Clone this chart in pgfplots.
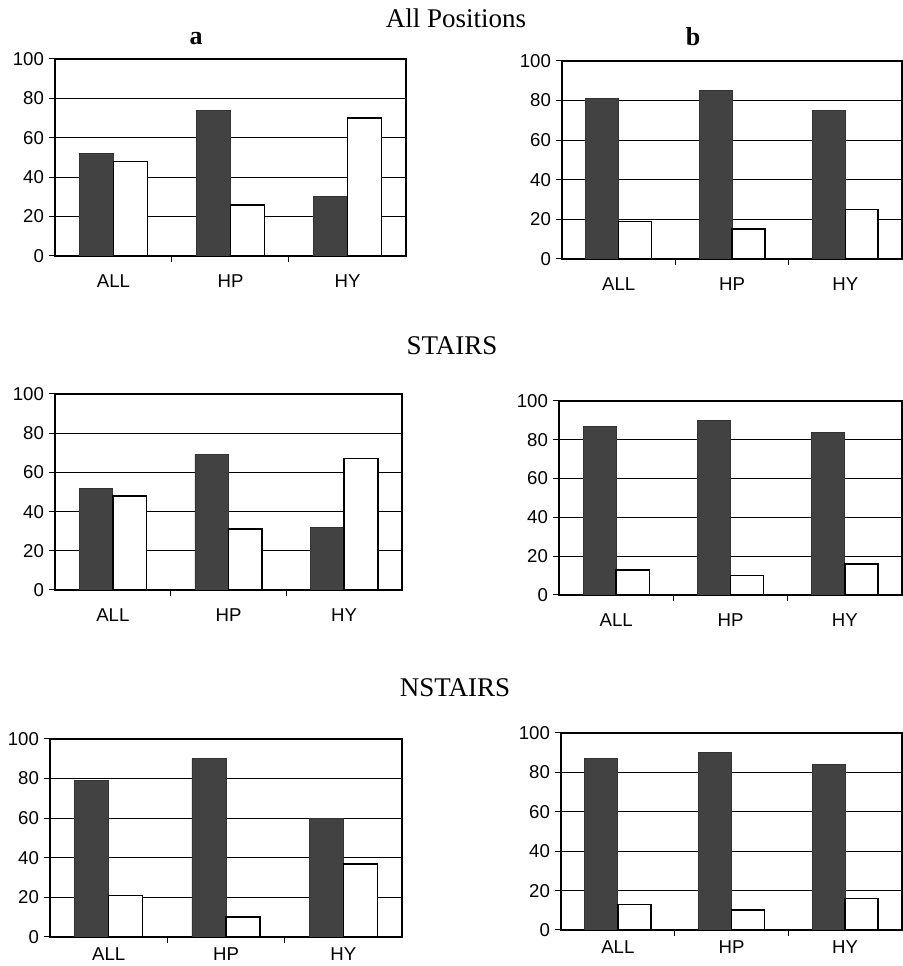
\documentclass[border=0pt]{standalone}
\usepackage{pgfplots}
\pgfplotsset{compat=1.18}
\usepackage{fontspec}
\setmainfont{Liberation Sans}
\newfontfamily\seriffont{Liberation Serif}
\pgfplotsset{
  panel/.style={
    scale only axis, anchor=south west,
    xmin=-0.5, xmax=2.5, ymin=0, ymax=100,
    ytick={0,20,40,60,80,100},
    xtick={0,1,2}, xticklabels={ALL,HP,HY},
    minor xtick={0.5,1.5},
    tick pos=left,
    major x tick style={draw=none},
    minor x tick style={draw=black, line width=0.5pt},
    minor tick length=3pt,
    ymajorgrids, grid style={black, line width=0.5pt},
    tick align=outside, major tick length=3pt,
    tick style={black, line width=0.5pt},
    axis line style={black, line width=0.7pt},
    tick label style={font=\fontsize{9.3}{10}\selectfont},
    /pgf/number format/assume math mode=true,
    xticklabel style={yshift=-3pt},
    yticklabel style={xshift=1pt},
  },
  dark/.style={ybar, bar width=0.29, bar shift=-0.145, fill=black!74, draw=black!80, line width=0.4pt},
  light/.style={ybar, bar width=0.29, bar shift=0.145, fill=white, draw=black, line width=0.8pt},
}
\begin{document}
\begin{tikzpicture}
\useasboundingbox (0,0) rectangle (451.5pt,483pt);
% titles
\node[anchor=base, font=\seriffont\fontsize{13.5}{15}\selectfont] at (228pt,469pt) {All Positions};
\node[anchor=base, font=\seriffont\bfseries\fontsize{13}{15}\selectfont] at (98pt,460.5pt) {a};
\node[anchor=base, font=\seriffont\bfseries\fontsize{13}{15}\selectfont] at (346.5pt,460pt) {b};
\node[anchor=base, font=\seriffont\fontsize{13.5}{15}\selectfont] at (226pt,305.5pt) {STAIRS};
\node[anchor=base, font=\seriffont\fontsize{13.5}{15}\selectfont] at (227.5pt,134.5pt) {NSTAIRS};

% Row 1 a
\begin{axis}[panel, at={(27.5pt,355pt)}, width=175.5pt, height=98.5pt]
\addplot[dark] coordinates {(0,52) (1,74) (2,30)};
\addplot[light] coordinates {(0,48) (1,26) (2,70)};
\end{axis}
% Row 1 b
\begin{axis}[panel, at={(281pt,353.5pt)}, width=170pt, height=99pt]
\addplot[dark] coordinates {(0,81) (1,85) (2,75)};
\addplot[light] coordinates {(0,19) (1,15) (2,25)};
\end{axis}
% Row 2 a
\begin{axis}[panel, at={(27.5pt,188pt)}, width=173.5pt, height=98pt]
\addplot[dark] coordinates {(0,52) (1,69) (2,32)};
\addplot[light] coordinates {(0,48) (1,31) (2,67)};
\end{axis}
% Row 2 b
\begin{axis}[panel, at={(279.5pt,185.5pt)}, width=171.5pt, height=97pt]
\addplot[dark] coordinates {(0,87) (1,90) (2,84)};
\addplot[light] coordinates {(0,13) (1,10) (2,16)};
\end{axis}
% Row 3 a
\begin{axis}[panel, at={(25pt,14.5pt)}, width=176pt, height=99pt, xticklabel style={yshift=4pt}]
\addplot[dark] coordinates {(0,79) (1,90) (2,60)};
\addplot[light] coordinates {(0,21) (1,10) (2,37)};
\end{axis}
% Row 3 b
\begin{axis}[panel, at={(280.5pt,18pt)}, width=170.5pt, height=98.5pt, xticklabel style={yshift=4pt}]
\addplot[dark] coordinates {(0,87) (1,90) (2,84)};
\addplot[light] coordinates {(0,13) (1,10) (2,16)};
\end{axis}
\end{tikzpicture}
\end{document}
